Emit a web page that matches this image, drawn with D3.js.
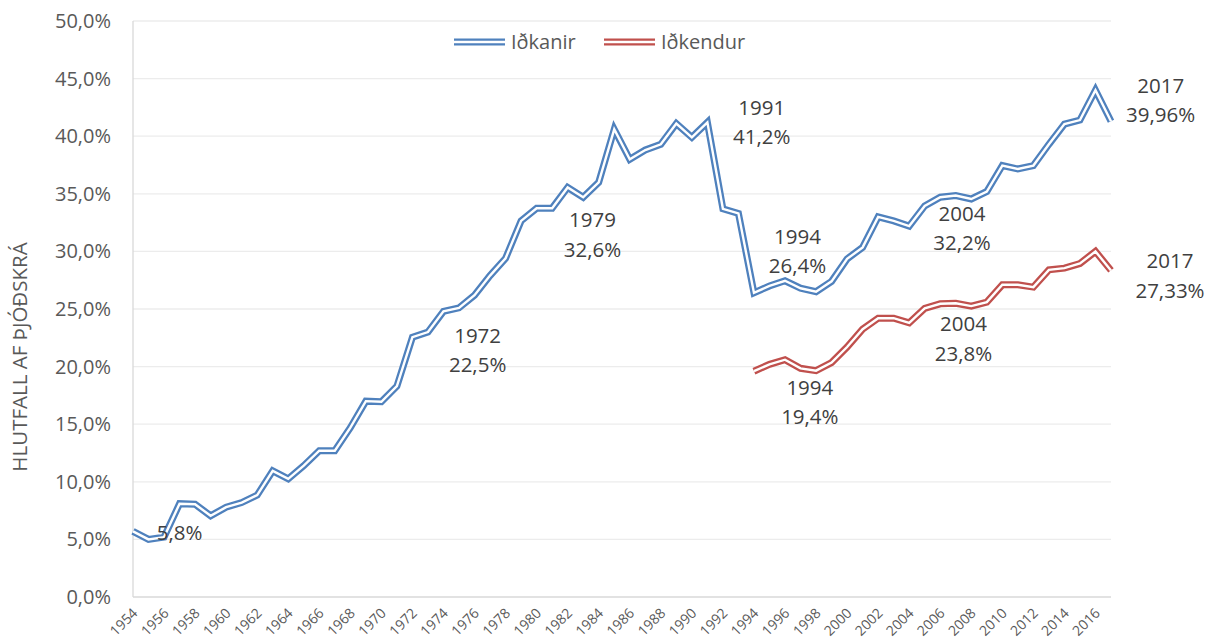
<!DOCTYPE html>
<html>
<head>
<meta charset="utf-8">
<script src="https://cdn.jsdelivr.net/npm/d3@7"></script>
<style>
  body { margin: 0; background: #fff; }
  text { font-family: "Open Sans", sans-serif; }
</style>
</head>
<body>
<div id="chart"></div>
<script>
// data (percent of national registry)
var years = d3.range(1954, 2018);
var idkanir = [5.7, 5.0, 5.2, 8.1, 8.05, 7.05, 7.8, 8.2, 8.85, 10.95,
  10.25, 11.4, 12.7, 12.7, 14.7, 17.0, 16.95, 18.3, 22.55, 23.0,
  24.8, 25.1, 26.2, 27.9, 29.4, 32.65, 33.75, 33.75, 35.55, 34.7,
  36.0, 40.6, 38.0, 38.8, 39.3, 41.1, 39.9, 41.2, 33.7, 33.3,
  26.4, 27.0, 27.45, 26.8, 26.5, 27.4, 29.35, 30.35, 33.0, 32.65,
  32.2, 33.95, 34.7, 34.85, 34.55, 35.2, 37.45, 37.15, 37.45, 39.3,
  41.05, 41.4, 44.0, 41.3];
var idkendurYears = d3.range(1994, 2018);
var idkendur = [19.6, 20.2, 20.6, 19.85, 19.65, 20.35, 21.7, 23.25, 24.2, 24.2,
  23.8, 25.05, 25.45, 25.5, 25.25, 25.6, 27.1, 27.1, 26.9, 28.4,
  28.55, 28.95, 30.0, 28.35];
var yTicks = [0, 5, 10, 15, 20, 25, 30, 35, 40, 45, 50];
var xTicks = d3.range(1954, 2017, 2);
var seriesNames = ["Iðkanir", "Iðkendur"];
var seriesColors = ["#4f81bd", "#c0504d"];

// annotation text, placed in data units (year, percent) of the first line
var notes = [
  {year: 1957.0, val: 5.6, lines: ["5,8%"]},
  {year: 1976.2, val: 22.7, lines: ["1972", "22,5%"]},
  {year: 1983.6, val: 32.7, lines: ["1979", "32,6%"]},
  {year: 1994.5, val: 42.5, lines: ["1991", "41,2%"]},
  {year: 1996.8, val: 31.3, lines: ["1994", "26,4%"]},
  {year: 2007.4, val: 33.3, lines: ["2004", "32,2%"]},
  {year: 2020.2, val: 44.4, lines: ["2017", "39,96%"]},
  {year: 2020.8, val: 29.2, lines: ["2017", "27,33%"]},
  {year: 2007.5, val: 23.7, lines: ["2004", "23,8%"]},
  {year: 1997.6, val: 18.2, lines: ["1994", "19,4%"]}
];

var W = 1208, H = 641;
var margin = {top: 21, right: 97, bottom: 44, left: 133},
width = W - margin.left - margin.right,
height = H - margin.top - margin.bottom;

var svg = d3.select("#chart")
.append("svg")
.attr("width", W)
.attr("height", H)
.append("g")
.attr("transform", "translate(" + margin.left + "," + margin.top + ")");

var x = d3.scaleLinear().domain([1954, 2017]).range([0, width]);
var y = d3.scaleLinear().domain([0, 50]).range([height, 0]);

// gridlines
svg.append("g")
.selectAll("line")
.data(yTicks)
.enter()
.append("line")
  .attr("x1", 0)
  .attr("x2", width)
  .attr("y1", function(d) { return y(d) })
  .attr("y2", function(d) { return y(d) })
  .style("stroke", function(d) { return d == 0 ? "#d9d9d9" : "#ececec" })
  .style("stroke-width", 1.3);

// left axis line
svg.append("line")
.attr("x1", 0).attr("x2", 0)
.attr("y1", 0).attr("y2", height)
.style("stroke", "#d9d9d9")
.style("stroke-width", 1.3);

// y axis labels
var yAxis = svg.append("g")
.call(d3.axisLeft(y).tickValues(yTicks).tickSize(0).tickPadding(22)
  .tickFormat(function(d) { return d3.format(".1f")(d).replace(".", ",") + "%" }));
yAxis.select(".domain").remove();
yAxis.selectAll("text")
.style("font-family", "Open Sans")
.style("font-size", "20px")
.style("fill", "#595959");

// x axis labels, rotated
var xAxis = svg.append("g")
.attr("transform", "translate(0," + height + ")")
.call(d3.axisBottom(x).tickValues(xTicks).tickSize(0).tickFormat(d3.format("d")));
xAxis.select(".domain").remove();
xAxis.selectAll("text")
.style("font-family", "Open Sans")
.style("font-size", "14px")
.style("fill", "#595959")
.style("text-anchor", "end")
.attr("dy", null)
.attr("y", 0)
.attr("transform", "translate(5,17) rotate(-45)");

// y axis title
svg.append("text")
.attr("transform", "translate(" + (20 - margin.left) + "," + (357 - margin.top) + ") rotate(-90)")
.attr("text-anchor", "middle")
.attr("dy", "0.35em")
.style("font-size", "20.5px")
.style("fill", "#595959")
.text("HLUTFALL AF ÞJÓÐSKRÁ");

// double lines
var line = d3.line()
.x(function(d) { return x(d[0]) })
.y(function(d) { return y(d[1]) });

function doubleLine(pts, color) {
  svg.append("path")
  .datum(pts)
  .attr("d", line)
  .style("fill", "none")
  .style("stroke", color)
  .style("stroke-width", 7)
  .style("stroke-linejoin", "miter");
  svg.append("path")
  .datum(pts)
  .attr("d", line)
  .style("fill", "none")
  .style("stroke", "#fff")
  .style("stroke-width", 2.4)
  .style("stroke-linejoin", "miter");
}
doubleLine(years.map(function(d, i) { return [d, idkanir[i]] }), seriesColors[0]);
doubleLine(idkendurYears.map(function(d, i) { return [d, idkendur[i]] }), seriesColors[1]);

// annotations
notes.forEach(function(n) {
  var t = svg.append("text")
  .attr("x", x(n.year))
  .attr("y", y(n.val))
  .attr("text-anchor", "middle")
  .attr("dy", "0.35em")
  .style("font-size", "20.5px")
  .style("fill", "#404040");
  n.lines.forEach(function(s, i) {
    t.append("tspan")
    .attr("x", x(n.year))
    .attr("dy", i == 0 ? "0.35em" : "1.45em")
    .text(s);
  });
});

// legend
var legend = svg.append("g")
.attr("transform", "translate(" + (454 - margin.left) + "," + (42 - margin.top) + ")");
var legendX = [0, 150];
seriesNames.forEach(function(name, i) {
  var g = legend.append("g").attr("transform", "translate(" + legendX[i] + ",0)");
  g.append("line").attr("x1", 0).attr("x2", 51).attr("y1", 0).attr("y2", 0)
  .style("stroke", seriesColors[i]).style("stroke-width", 7);
  g.append("line").attr("x1", 0).attr("x2", 51).attr("y1", 0).attr("y2", 0)
  .style("stroke", "#fff").style("stroke-width", 2.4);
  g.append("text")
  .attr("x", 57)
  .attr("y", 0)
  .attr("dy", "0.35em")
  .style("font-size", "20px")
  .style("fill", "#595959")
  .text(name);
});
</script>
</body>
</html>
